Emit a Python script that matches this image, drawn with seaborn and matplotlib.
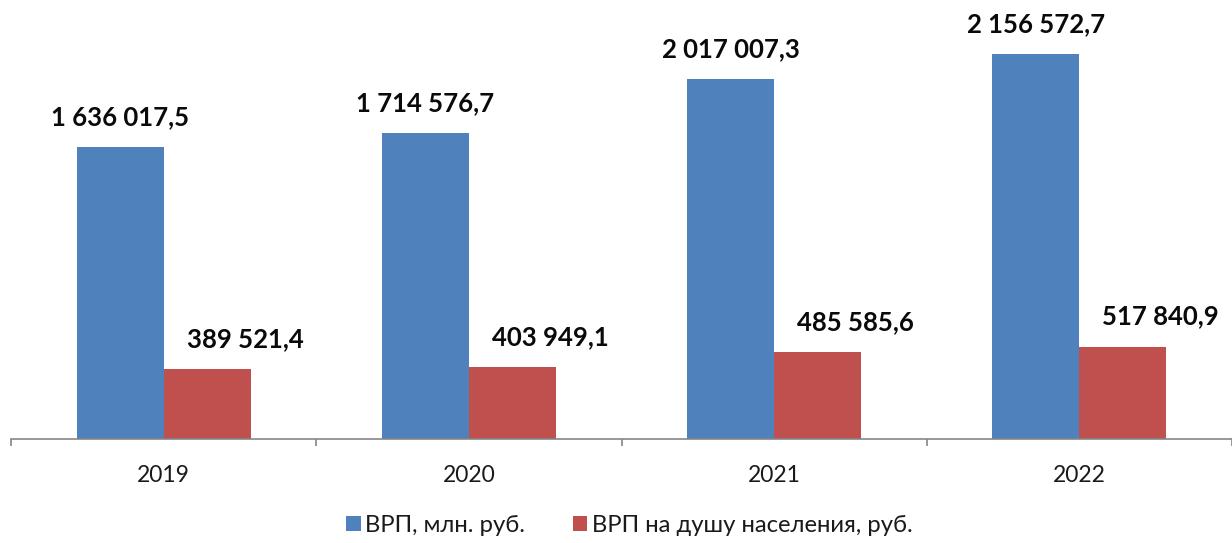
import matplotlib
matplotlib.use("Agg")
import matplotlib.pyplot as plt
import seaborn as sns
import pandas as pd

years = ["2019", "2020", "2021", "2022"]
grp_total = [1636017.5, 1714576.7, 2017007.3, 2156572.7]
grp_per_capita = [389521.4, 403949.1, 485585.6, 517840.9]
series_names = ["ВРП, млн. руб.", "ВРП на душу населения, руб."]
colors = ["#4F81BD", "#C0504D"]

df = pd.DataFrame({
    "year": years * 2,
    "value": grp_total + grp_per_capita,
    "series": [series_names[0]] * 4 + [series_names[1]] * 4,
})

sns.set_theme(style="white")
plt.rcParams["font.family"] = ["Lato", "Open Sans", "DejaVu Sans"]

W, H = 1232, 543
fig = plt.figure(figsize=(W / 100, H / 100), dpi=100)
ax = fig.add_axes([11 / W, (H - 439) / H, 1221 / W, 439 / H])

sns.barplot(data=df, x="year", y="value", hue="series", palette=colors,
            width=0.57, saturation=1, errorbar=None, linewidth=0, ax=ax)

ax.set_xlim(-0.5, -0.5 + 1221 / 307)
ax.set_ylim(0, 439 / 1.785e-4)

for s in ["left", "top", "right"]:
    ax.spines[s].set_visible(False)
ax.spines["bottom"].set_color("#868686")
ax.spines["bottom"].set_linewidth(1.2)
ax.set_yticks([])
ax.set_xlabel("")
ax.set_ylabel("")
ax.set_xticks(range(len(years)))
ax.set_xticklabels(years)
ax.set_xticks([i - 0.5 for i in range(len(years) + 1)], minor=True)
ax.tick_params(axis="x", which="major", length=0, pad=19, labelsize=16.5,
               labelcolor="#1a1a1a")
ax.tick_params(axis="x", which="minor", length=5, width=1.2, color="#868686",
               direction="out")
ax.tick_params(axis="x", which="both", bottom=True)


def fmt(v):
    return f"{v:,.1f}".replace(",", " ").replace(".", ",")


x_shift = [0, 38]
for k, cont in enumerate(ax.containers):
    for bar in cont:
        h = bar.get_height()
        cx = bar.get_x() + bar.get_width() / 2
        ax.annotate(fmt(h), xy=(cx, h), xytext=(x_shift[k], 22),
                    textcoords="offset pixels", ha="center", va="baseline",
                    fontsize=18.5, fontweight="bold", color="#0a0a0a")

handles, labels = ax.get_legend_handles_labels()
if ax.get_legend() is not None:
    ax.get_legend().remove()
fig.legend(handles, labels, loc="center", bbox_to_anchor=(0.511, 0.032),
           ncol=2, frameon=False, fontsize=17.2, handlelength=0.6,
           handleheight=0.6, handletextpad=0.2, columnspacing=2.0,
           labelcolor="#1a1a1a")

fig.savefig("out.png", dpi=100)
